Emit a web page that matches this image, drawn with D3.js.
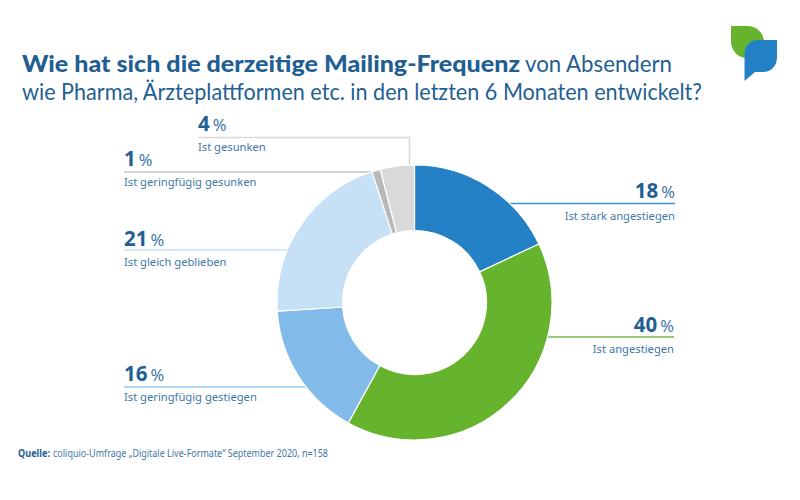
<!DOCTYPE html>
<html><head><meta charset="utf-8">
<script src="https://cdn.jsdelivr.net/npm/d3@7/dist/d3.min.js"></script>
<style>html,body{margin:0;padding:0;background:#fff}svg{display:block}text{font-family:"Noto Sans",sans-serif}text.t{font-family:Lato,"Noto Sans",sans-serif}</style>
</head><body><svg id="c" width="800" height="500"></svg>
<script>
const categories=["Ist stark angestiegen","Ist angestiegen","Ist geringfügig gestiegen","Ist gleich geblieben","Ist geringfügig gesunken","Ist gesunken"];
const values=[18,40,16,21,1,4];
const colors=["#2481c6","#66b32e","#82bbe9","#c6e0f5","#b9b9b9","#d9d9d9"];
const lineColors=["#3d92d6","#7ab648","#9ccaee","#c6e0f5","#c4c4c4","#d9d9d9"];
const labelX=[675,674,124,124,124,198];
const valueY=[198,332,381,246,166,131];
const lineY=[203.5,337,387,250,172,137.5];
const anchors=["end","end","start","start","start","start"];
const dark="#1f5f93",mid="#3f77a6";
const svg=d3.select("#c");
const cx=414.5,cy=302.5,R=137.5,r=72;

values.forEach((v,i)=>{
  const right=anchors[i]==="end";
  const end=i===5?409.5:(i===4?376:cx);
  svg.append("line").attr("x1",labelX[i]).attr("x2",right?cx:end)
    .attr("y1",lineY[i]).attr("y2",lineY[i])
    .attr("stroke",lineColors[i]).attr("stroke-width",i>3?1.6:1.4);
});
svg.append("line").attr("x1",409.5).attr("x2",409.5).attr("y1",137.5).attr("y2",170)
  .attr("stroke",lineColors[5]).attr("stroke-width",1.6);

const pie=d3.pie().sort(null)(values);
const arc=d3.arc().innerRadius(r).outerRadius(R);
svg.append("g").attr("transform",`translate(${cx},${cy})`).selectAll("path").data(pie).join("path")
  .attr("d",arc).attr("fill",(d,i)=>colors[i]).attr("stroke","#fff").attr("stroke-width",1.2);
svg.append("circle").attr("cx",cx).attr("cy",cy).attr("r",r).attr("fill","#fff");

values.forEach((v,i)=>{
  const t=svg.append("text").attr("x",labelX[i]).attr("y",valueY[i]).attr("text-anchor",anchors[i]).attr("fill",dark);
  t.append("tspan").attr("font-size",20.5).attr("font-weight",700).text(v);
  t.append("tspan").attr("font-size",16.5).attr("dx",3).attr("fill",mid).text("%");
  svg.append("text").attr("x",labelX[i]).attr("y",lineY[i]+(i===3?15.5:i===5?13:i===4?14:i===2?14:16)).attr("text-anchor",anchors[i])
    .attr("font-size",11.2).attr("fill",mid).text(categories[i]);
});

function fit(cls,x,y,size,weight,len,str,fill){
  svg.append("text").attr("class",cls).attr("x",x).attr("y",y).attr("font-size",size).attr("font-weight",weight)
    .attr("fill",fill).attr("textLength",len).attr("lengthAdjust","spacingAndGlyphs").text(str);
}
fit("t",22,72,23,900,498,"Wie hat sich die derzeitige Mailing-Frequenz",dark);
fit("t",525,72,23,400,147,"von Absendern",dark);
fit("t",22,100,23,400,680,"wie Pharma, Ärzteplattformen etc. in den letzten 6 Monaten entwickelt?",dark);
fit("",18,457,10.2,700,32,"Quelle:",dark);
fit("",53,457,10.4,400,275,"coliquio-Umfrage „Digitale Live-Formate“ September 2020, n=158",mid);

svg.append("path").attr("d","M731 26 H747 C756 26 763 32 764 41 L745 58 C737 57 731 50 731 41 Z").attr("fill","#66b32e");
svg.append("path").attr("d","M777 40 V57 C777 66 771 72 763 72 H755 L744.5 81 V54 C744.5 46 750 40 758 40 Z").attr("fill","#2481c6");
</script></body></html>
